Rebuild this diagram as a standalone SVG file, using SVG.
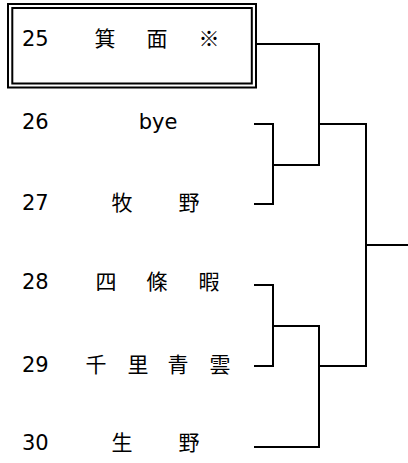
<svg xmlns="http://www.w3.org/2000/svg" width="408" height="463" viewBox="0 0 408 463">
<style>
text{font-family:"DejaVu Sans","Noto Sans CJK JP",sans-serif;font-size:21px;fill:#000}
.n{text-anchor:start}
.c{text-anchor:middle;font-family:"Noto Sans CJK JP","DejaVu Sans",sans-serif}
.l{fill:none;stroke:#000;stroke-width:2}
</style>
<rect width="408" height="463" fill="#fff"/>
<g id="team25">
<rect class="l" x="8" y="4" width="248" height="83.5"/>
<rect class="l" x="12.3" y="8" width="239.5" height="75.5"/>
<text class="n" x="22" y="46">25</text>
<text class="c" x="105" y="46">箕</text><text class="c" x="157" y="46">面</text><text class="c" x="209" y="46">※</text>
</g>
<g id="team26">
<text class="n" x="22" y="129">26</text>
<text x="158" y="129" style="text-anchor:middle">bye</text>
</g>
<g id="team27">
<text class="n" x="22" y="210">27</text>
<text class="c" x="122" y="210">牧</text><text class="c" x="189" y="210">野</text>
</g>
<g id="team28">
<text class="n" x="22" y="289">28</text>
<text class="c" x="106" y="289">四</text><text class="c" x="157" y="289">條</text><text class="c" x="209" y="289">暇</text>
</g>
<g id="team29">
<text class="n" x="22" y="372">29</text>
<text class="c" x="96" y="372">千</text><text class="c" x="138" y="372">里</text><text class="c" x="178" y="372">青</text><text class="c" x="220" y="372">雲</text>
</g>
<g id="team30">
<text class="n" x="22" y="450">30</text>
<text class="c" x="122" y="450">生</text><text class="c" x="189" y="450">野</text>
</g>
<g id="connectors" class="l">
<polyline class="l" points="256,44 319,44 319,165 273,165"/>
<polyline class="l" points="254,124 273,124 273,204 254,204"/>
<polyline class="l" points="319,124 366,124 366,366 319,366"/>
<line class="l" x1="366" y1="245" x2="408" y2="245"/>
<polyline class="l" points="254,285 273,285 273,366 254,366"/>
<polyline class="l" points="273,326 319,326 319,447 254,447"/>
</g>
</svg>
